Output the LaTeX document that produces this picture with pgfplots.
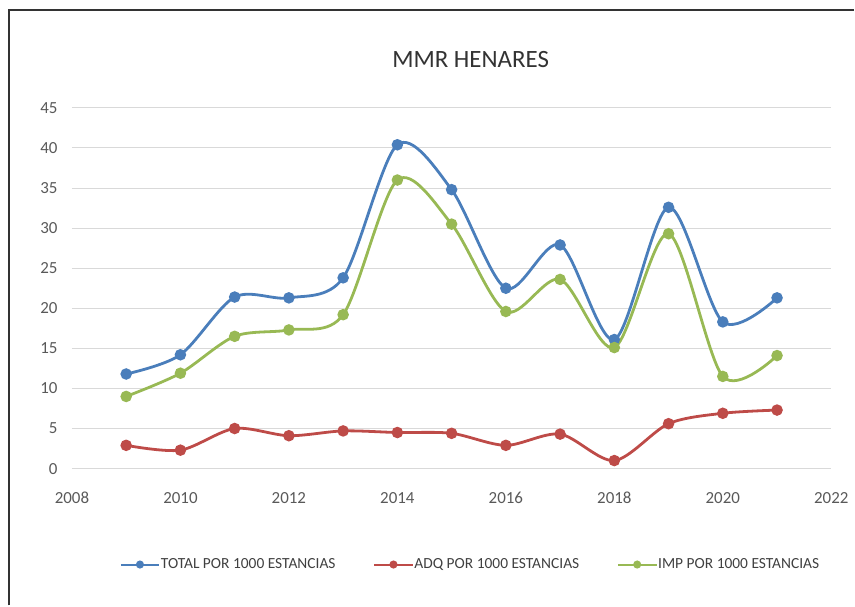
\documentclass[border=0pt]{standalone}
\usepackage{pgfplots}
\pgfplotsset{compat=1.18}
\usepackage{fontspec}
\setmainfont{Carlito}
\definecolor{cblue}{HTML}{4A7EBB}
\definecolor{cred}{HTML}{BE4B48}
\definecolor{cgreen}{HTML}{98B954}
\definecolor{tickgray}{HTML}{595959}
\definecolor{gridgray}{HTML}{D9D9D9}
\begin{document}
\begin{tikzpicture}[x=1bp,y=1bp]
\path (0,0) rectangle (855,606);
\draw[line width=1.5bp, color=black!80] (9,0) -- (9,596) -- (855,596);
\node[font=\fontsize{25}{30}\selectfont, color=black!80] at (471,546) {MMR HENARES};
\begin{axis}[
  at={(72bp,137bp)}, anchor=south west,
  scale only axis, width=760bp, height=361bp,
  xmin=2008, xmax=2022, ymin=0, ymax=45,
  xtick={2008,2010,...,2022}, ytick={0,5,...,45},
  axis line style={draw=none},
  ymajorgrids, grid style={color=gridgray, line width=1bp},
  major tick length=0pt,
  tick label style={font=\fontsize{17}{20}\selectfont, color=tickgray},
  x tick label style={yshift=-20bp},
  y tick label style={xshift=-11bp},
  /pgf/number format/assume math mode=true,
  /pgf/number format/1000 sep={},
  clip=false,
  legend style={at={(0.525,-0.266)}, anchor=center, legend columns=3, draw=none, fill=none,
    font=\fontsize{15.5}{18}\selectfont, text=black!75,
    /tikz/every even column/.append style={column sep=36bp},
    /tikz/every odd column/.append style={column sep=-1bp}},
  legend image code/.code={\draw[line width=2bp, mark size=3bp, mark repeat=2, mark phase=2] plot coordinates {(0bp,0bp) (19bp,0bp) (38bp,0bp)};},
  every axis plot/.append style={line width=2.8bp, smooth, tension=0.5, mark=*, mark size=4.3bp, mark options={solid}},
]
\addplot[color=cblue] coordinates {
(2009,11.8) (2010,14.2) (2011,21.4) (2012,21.3) (2013,23.8) (2014,40.4) (2015,34.8)
(2016,22.5) (2017,27.9) (2018,16.1) (2019,32.6) (2020,18.3) (2021,21.3)};
\addlegendentry{TOTAL POR 1000 ESTANCIAS}
\addplot[color=cred] coordinates {
(2009,2.9) (2010,2.3) (2011,5.0) (2012,4.1) (2013,4.7) (2014,4.5) (2015,4.4)
(2016,2.9) (2017,4.3) (2018,1.0) (2019,5.6) (2020,6.9) (2021,7.3)};
\addlegendentry{ADQ POR 1000 ESTANCIAS}
\addplot[color=cgreen] coordinates {
(2009,9.0) (2010,11.9) (2011,16.5) (2012,17.3) (2013,19.2) (2014,36.0) (2015,30.5)
(2016,19.6) (2017,23.6) (2018,15.1) (2019,29.3) (2020,11.5) (2021,14.1)};
\addlegendentry{IMP POR 1000 ESTANCIAS}
\end{axis}
\end{tikzpicture}
\end{document}
